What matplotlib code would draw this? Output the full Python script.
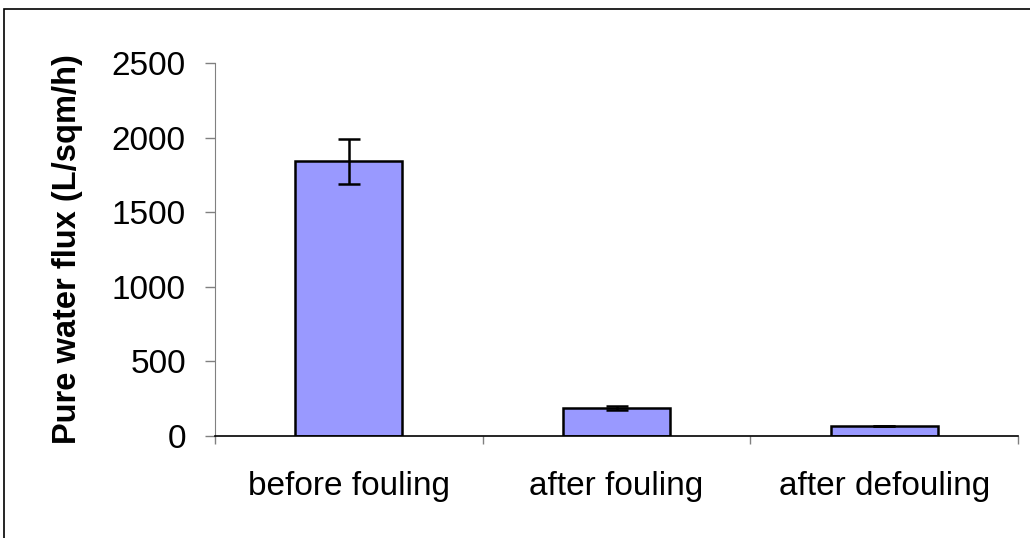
import matplotlib
matplotlib.use("Agg")
import matplotlib.pyplot as plt
from matplotlib.patches import Rectangle

plt.rcParams['font.family'] = ['Liberation Sans', 'DejaVu Sans']

# data
categories = ['before fouling', 'after fouling', 'after defouling']
flux = [1840, 188, 67]
flux_err = [150, 14, 3]
y_ticks = [0, 500, 1000, 1500, 2000, 2500]

W, H = 1030, 538
fig = plt.figure(figsize=(W / 100, H / 100), dpi=100)

# outer chart frame (excel style), runs off right/bottom edge
fig.patches.append(Rectangle((4 / W, -0.1), 1.2, 1 - 9 / H + 0.1,
                             transform=fig.transFigure, fill=False,
                             edgecolor='black', linewidth=1.2))

# plot area: x 215..1018 px, y 63..436 px
ax = fig.add_axes([215 / W, 1 - 436 / H, (1018 - 215) / W, (436 - 63) / H])

x = range(len(categories))
ax.bar(x, flux, width=0.4, color='#9999ff', edgecolor='black', linewidth=1.8,
       yerr=flux_err, error_kw=dict(ecolor='black', elinewidth=1.8, capsize=8, capthick=1.8))

ax.set_xlim(-0.5, len(categories) - 0.5)
ax.set_ylim(0, 2500)
ax.set_yticks(y_ticks)
ax.set_yticklabels([str(v) for v in y_ticks], fontsize=24)

# category ticks at boundaries, labels at centres
ax.set_xticks([i - 0.5 for i in range(len(categories) + 1)])
ax.set_xticklabels([])
ax.set_xticks(list(x), minor=True)
ax.set_xticklabels(categories, minor=True, fontsize=24)
ax.tick_params(axis='x', which='minor', length=0, pad=25)
ax.tick_params(axis='x', which='major', length=6, color='#808080', width=1)
ax.tick_params(axis='y', length=7, color='#808080', width=1, pad=14)

ax.spines['top'].set_visible(False)
ax.spines['right'].set_visible(False)
ax.spines['left'].set_color('#808080')
ax.spines['bottom'].set_color('black')
ax.spines['bottom'].set_linewidth(1.2)

ax.set_ylabel('Pure water flux (L/sqm/h)', fontsize=23.5, fontweight='bold')
ax.yaxis.set_label_coords(-0.164, 0.5)

fig.savefig('out.png', dpi=100)
